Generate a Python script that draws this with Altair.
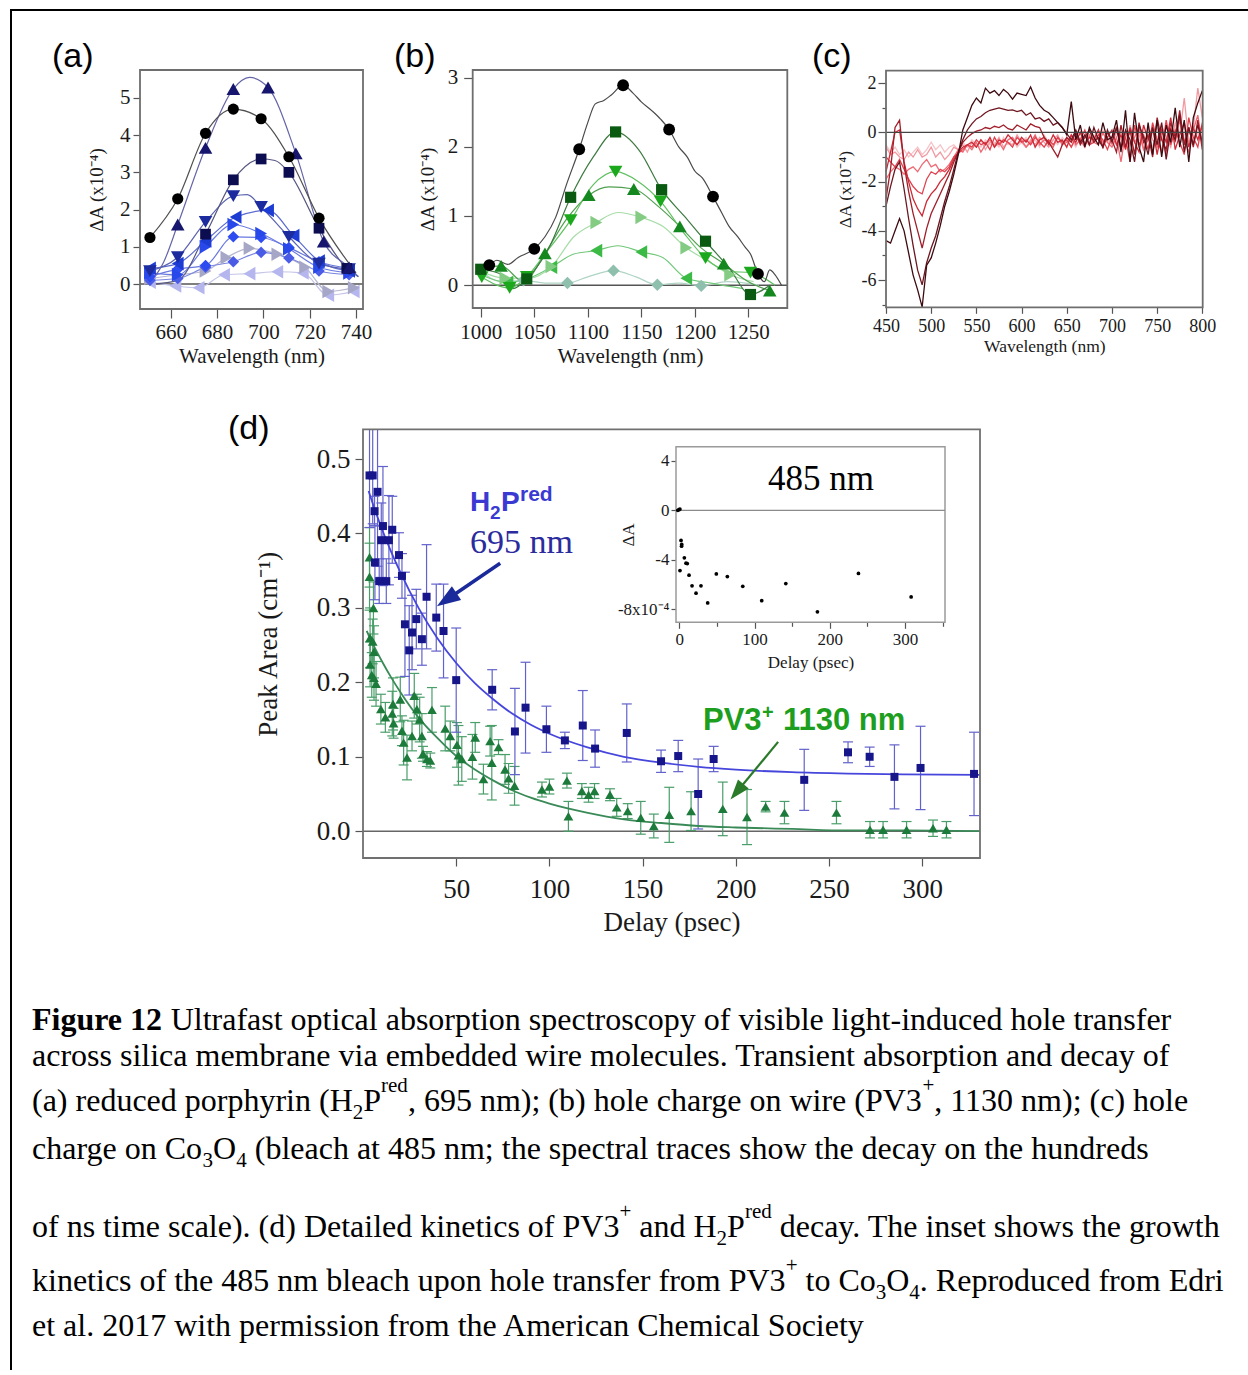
import altair as alt
import pandas as pd

W, H = 1248, 1370
SERIF = "Liberation Serif"
SANS = "Liberation Sans"
ONE = pd.DataFrame({"k": [0]})

# ---------------- panel (a): H2P(red) spectra ----------------
a_shapes = ["triangle-left", "triangle-right", "diamond", "diamond", "triangle-right",
            "triangle-left", "triangle-down", "square", "triangle-up", "circle"]
a_colors = ["#b6b6ee", "#a6a6c6", "#4a5ce6", "#2f4cf0", "#2848ea",
            "#1d3cd4", "#1c2c9e", "#0c0c50", "#16166e", "#000000"]
a_line_colors = ["#c4c4ea", "#b8b8d0", "#7a86e0", "#6a78e0", "#6a7ae0",
                 "#5a6ad0", "#5a62b0", "#555580", "#6464a8", "#505050"]
a_mk_wl = [
    [651, 662, 672, 683, 694, 706, 717, 728, 739],
    [651, 663, 675, 684, 694, 706, 718, 728, 739],
    [651, 663, 675, 687, 699, 711, 724, 737],
    [651, 663, 675, 687, 699, 711, 724, 737],
    [651, 663, 675, 687, 699, 711, 724, 737],
    [651, 663, 675, 688, 702, 713, 724, 737],
    [651, 663, 675, 687, 699, 711, 724, 737],
    [675, 687, 699, 711, 724, 736],
    [663, 675, 687, 702, 714, 726, 737],
    [651, 663, 675, 687, 699, 711, 724],
]
a_mk_val = [
    [0.05, -0.05, -0.10, 0.25, 0.28, 0.33, 0.30, -0.30, -0.20],
    [0.15, 0.25, 0.35, 0.71, 0.96, 0.80, 0.45, -0.20, -0.10],
    [0.10, 0.15, 0.45, 0.60, 0.85, 0.70, 0.35, 0.25],
    [0.20, 0.40, 0.50, 1.27, 1.25, 0.98, 0.60, 0.42],
    [0.30, 0.25, 1.00, 1.60, 1.36, 0.95, 0.45, 0.30],
    [0.42, 0.55, 1.16, 1.80, 1.98, 1.30, 0.62, 0.35],
    [0.35, 0.72, 1.67, 2.36, 2.07, 1.27, 0.55, 0.40],
    [1.34, 2.80, 3.36, 3.00, 1.50, 0.42],
    [1.60, 3.66, 5.24, 5.28, 3.51, 1.14, 0.45],
    [1.25, 2.29, 4.05, 4.70, 4.44, 3.42, 1.77],
]
a_ln_wl = [[], [], [], [], [], [], [693], [652, 663, 705, 741], [652, 657, 694, 741], [740]]
a_ln_val = [[], [], [], [], [], [], [2.40], [0.0, 0.10, 3.32, 0.20], [0.10, 0.60, 5.55, 0.20], [0.30]]

# ---------------- panel (b): PV3+ spectra ----------------
b_shapes = ["diamond", "triangle-left", "triangle-right", "triangle-up", "triangle-down", "square", "circle"]
b_colors = ["#8fc0ae", "#3cba46", "#84cc84", "#14881e", "#1ca81c", "#0b5a12", "#000000"]
b_line_colors = ["#b0d4c4", "#70c878", "#a8dca8", "#50a050", "#60c060", "#3c7a40", "#4a4a4a"]
b_mk_wl = [
    [1040, 1081, 1124, 1165, 1206],
    [1025, 1066, 1108, 1150, 1192],
    [1023, 1066, 1108, 1150, 1192, 1233],
    [1019, 1060, 1101, 1143, 1186, 1227, 1270],
    [1001, 1027, 1043, 1084, 1126, 1168, 1210, 1252],
    [1000, 1043, 1084, 1126, 1169, 1210, 1252],
    [1008, 1050, 1092, 1133, 1176, 1217, 1259],
]
b_mk_val = [
    [0.07, 0.03, 0.21, 0.005, -0.01],
    [0.04, 0.26, 0.50, 0.48, 0.10],
    [0.10, 0.27, 0.905, 0.98, 0.54, 0.15],
    [0.28, 0.46, 1.30, 1.39, 0.85, 0.31, -0.08],
    [0.115, -0.04, 0.12, 0.94, 1.64, 1.21, 0.39, 0.18],
    [0.23, 0.09, 1.27, 2.215, 1.38, 0.635, -0.135],
    [0.29, 0.525, 1.965, 2.89, 2.25, 1.28, 0.163],
]
b_ln_wl = [
    [1000, 1020, 1060, 1100, 1145, 1185, 1230, 1260],
    [1000, 1045, 1087, 1128, 1170, 1215, 1245],
    [1000, 1045, 1087, 1128, 1170, 1212, 1255],
    [1000, 1040, 1080, 1120, 1165, 1205, 1250],
    [1060, 1105, 1147, 1190, 1232, 1275],
    [1020, 1030, 1064, 1105, 1148, 1190, 1232, 1270],
    [1000, 1015, 1025, 1035, 1060, 1070, 1080, 1100, 1107, 1115, 1122, 1142, 1150, 1160, 1168,
     1185, 1193, 1200, 1207, 1225, 1232, 1240, 1247, 1252, 1265, 1270, 1275, 1281],
]
b_ln_val = [
    [0.20, 0.05, 0.03, 0.12, 0.12, 0.03, 0.05, 0.0],
    [0.15, 0.10, 0.45, 0.57, 0.40, 0.03, -0.05],
    [0.20, 0.10, 0.70, 1.05, 0.85, 0.35, 0.05],
    [0.25, 0.05, 0.95, 1.42, 1.15, 0.55, 0.05],
    [0.45, 1.45, 1.50, 0.75, 0.20, 0.0],
    [0.15, -0.05, 0.55, 1.85, 1.95, 1.00, 0.25, 0.0],
    [0.25, 0.36, 0.30, 0.40, 0.70, 0.98, 1.45, 2.35, 2.62, 2.67, 2.75, 2.78, 2.65, 2.52, 2.40,
     2.00, 1.85, 1.65, 1.55, 1.05, 0.85, 0.70, 0.55, 0.45, 0.05, 0.22, 0.15, 0.0],
]

# ---------------- panel (c): Co3O4 spectral traces ----------------
c_wl = list(range(450, 801, 5))
c_colors = ["#f6c4c8", "#f29aa2", "#ee6a74", "#e0424e", "#cc2a36", "#a01e2a", "#6e1620", "#3d0a10"]
c_vals = [
    [-0.5, -0.8, -0.6, -0.9, -0.7, -1.0, -0.8, -0.6, -0.9, -0.7, -0.4, -0.7, -0.5, -0.8, -0.6, -0.5, -0.7, -0.4,
     -0.6, -0.3, -0.5, -0.6, -0.3, -0.5, -0.4, -0.6, -0.2, -0.5, -0.3, -0.6, -0.4, -0.2, -0.5, -0.3, -0.6, -0.1,
     -0.4, -0.3, -0.5, -0.2, -0.4, -0.3, -0.6, -0.2, -0.4, -0.5, -0.1, -0.3, 0.1, -0.4, -0.2, -0.5, 0.0, -0.3,
     -0.6, 0.1, -0.3, -0.5, 0.0, -0.6, -0.2, 0.1, -0.4, -0.2, 0.3, -0.5, -0.1, 0.2, -0.4, 0.0, -0.3],
    [-0.6, -0.9, -0.8, -1.0, -1.1, -0.8, -1.0, -0.7, -1.0, -0.9, -0.6, -1.0, -0.8, -1.1, -0.9, -0.6, -0.7, -0.5,
     -0.8, -0.4, -0.6, -0.3, -0.7, -0.4, -0.5, -0.2, -0.6, -0.4, -0.5, -0.1, -0.4, -0.6, -0.3, -0.5, -0.2, -0.4,
     -0.6, -0.3, -0.1, -0.5, -0.3, -0.6, -0.2, -0.4, -0.1, -0.5, -0.3, 0.1, -0.4, -0.2, -0.5, 0.0, -0.3, -0.6,
     0.3, -0.4, -0.1, -0.7, 0.2, -0.3, -0.5, 0.3, -0.2, -0.6, 0.4, -0.1, 1.4, -0.4, 0.2, 1.8, 0.6],
    [-1.9, -1.6, -1.4, -1.5, -1.7, -1.5, -1.4, -1.6, -1.3, -1.1, -1.4, -1.3, -1.6, -1.5, -1.3, -1.0, -0.7, -0.8,
     -0.5, -0.7, -0.4, -0.8, -0.5, -0.3, -0.6, -0.4, -0.7, -0.3, -0.2, -0.5, -0.3, -0.6, -0.4, -0.1, -0.5, -0.3,
     -0.4, -0.6, -0.2, -0.5, -0.4, -0.1, -0.5, -0.3, -0.6, -0.1, -0.4, -0.5, 0.0, -0.4, -0.6, -0.2, -1.2, 0.0,
     -0.5, -0.2, 0.2, -0.7, -0.3, 0.1, -0.6, -0.2, -0.9, 0.2, -0.4, 0.5, -0.3, -0.8, 0.1, 0.7, -0.5],
    [-1.0, -1.2, -1.4, -1.1, -1.5, -1.9, -2.2, -2.4, -2.5, -1.9, -1.6, -1.7, -1.5, -1.6, -1.4, -1.0, -0.85, -0.7,
     -0.5, -0.6, -0.3, -0.5, -0.4, -0.7, -0.2, -0.5, -0.3, -0.4, -0.6, -0.2, -0.4, -0.3, -0.5, -0.2, -0.4, -0.6,
     -0.3, -0.5, -0.2, -0.4, -0.3, -0.6, -0.2, -0.3, 0.1, -0.5, -0.4, -0.1, -0.3, -0.7, -0.2, 0.2, -0.6, -0.2,
     -1.2, 0.3, -0.5, -0.1, -0.7, 0.4, -0.3, -0.8, 0.5, -0.5, 0.1, -0.4, -0.9, 0.6, -0.2, -0.6, 0.4],
    [-1.6, -0.8, 0.0, 0.1, -1.2, -2.0, -2.7, -3.1, -3.4, -2.8, -2.5, -2.3, -2.0, -1.8, -1.5, -1.1, -0.8, -0.6,
     -0.5, -0.4, -0.6, -0.3, -0.5, -0.2, -0.6, -0.3, -0.4, -0.1, -0.3, -0.5, -0.2, -0.4, -0.1, -0.6, -0.3, -0.2,
     -0.5, -0.1, -0.4, -0.3, -0.6, -0.1, -0.4, 0.0, -0.5, -0.2, -0.3, 0.1, -0.6, -0.2, 0.1, -0.5, -0.1, -0.7,
     0.2, -0.4, -0.8, 0.3, -0.3, 0.2, -0.9, 0.1, -0.4, 0.6, -0.7, -0.1, 0.4, -0.6, 0.2, -0.3, 0.3],
    [-2.7, -1.5, 0.2, 0.5, -1.3, -2.4, -3.3, -4.0, -4.7, -3.9, -3.3, -2.9, -2.5, -2.1, -1.7, -1.2, -0.8, -0.4,
     -0.2, -0.05, 0.05, 0.1, 0.2, 0.15, 0.25, 0.2, 0.3, 0.15, 0.1, 0.3, 0.2, 0.1, 0.35, 0.25, 0.2, -0.2,
     -0.4, -0.7, -1.0, -0.5, -0.2, -0.4, 0.0, -0.5, -0.2, 0.1, -0.4, -0.2, -0.6, 0.0, -0.3, -0.8, 0.3, -0.6,
     0.1, -0.9, 0.4, -0.4, -0.1, -1.0, 0.6, -0.3, -0.7, 0.4, -0.2, 0.9, -0.5, 0.2, -0.6, 0.5, -0.7],
    [-3.0, -2.2, -1.5, -1.2, -2.3, -3.5, -4.6, -5.6, -6.2, -5.3, -4.7, -4.2, -3.5, -2.8, -2.2, -1.5, -0.8, -0.3,
     0.1, 0.35, 0.55, 0.65, 0.8, 0.9, 0.95, 1.0, 0.95, 0.9, 0.92, 0.85, 0.9, 0.7, 0.8, 0.55, 0.6, 0.45,
     0.55, 0.3, 0.4, 0.2, -0.05, -0.3, 0.1, -0.4, -0.1, -0.5, 0.2, -0.3, -0.6, 0.1, -0.4, 0.2, -0.7, 0.1,
     -0.3, -1.2, 0.3, -0.2, -0.9, 0.2, -0.5, 0.4, -1.1, 0.1, -0.3, 0.7, -0.8, 0.2, -0.5, 0.3, -0.4],
    [-4.4, -4.5, -4.0, -3.5, -4.0, -4.9, -5.8, -6.4, -7.1, -5.4, -5.1, -4.5, -3.8, -3.0, -2.4, -1.7, -0.9, 0.1,
     0.6, 1.1, 1.4, 1.2, 1.8, 1.6, 1.7, 1.5, 1.75, 1.6, 1.35, 1.6, 1.55, 1.5, 1.85, 1.4, 1.1, 0.9,
     0.8, 0.6, 0.4, 0.2, -0.1, 1.25, -0.3, 0.3, -0.6, 0.2, -0.2, -0.5, 0.4, -0.3, -0.2, 0.5, -0.8, 0.9,
     -1.2, 0.8, -0.6, -1.2, 0.4, -0.9, 0.5, -1.0, 0.3, -0.4, 1.0, -0.6, 0.5, -1.2, 0.6, 1.2, 1.7],
]

# ---------------- panel (d): kinetics ----------------
d_b_t = [3.5, 5.2, 7.8, 6.2, 10.7, 6.4, 9.8, 8.7, 12.5, 13.9, 15.7, 19.3, 20.9, 22.5, 24.8, 26.3, 28.6, 31.6,
         34.1, 39.3, 43.2, 50.0, 69.3, 81.5, 87.2, 98.4, 108.3, 117.9, 124.5, 141.5, 159.9, 169.1, 179.8,
         188.1, 236.7, 260.2, 271.8, 285.1, 299.1, 327.8]
d_b_v = [0.478, 0.478, 0.456, 0.430, 0.410, 0.361, 0.391, 0.336, 0.336, 0.391, 0.405, 0.371, 0.343, 0.278,
         0.243, 0.267, 0.285, 0.258, 0.315, 0.287, 0.269, 0.203, 0.190, 0.134, 0.166, 0.137, 0.122, 0.142,
         0.111, 0.132, 0.094, 0.101, 0.050, 0.097, 0.069, 0.106, 0.100, 0.073, 0.085, 0.077]
d_b_e = [0.070, 0.065, 0.100, 0.020, 0.080, 0.050, 0.050, 0.030, 0.030, 0.060, 0.045, 0.030, 0.030, 0.070,
         0.060, 0.050, 0.040, 0.035, 0.070, 0.045, 0.063, 0.070, 0.027, 0.058, 0.061, 0.031, 0.011, 0.047,
         0.025, 0.039, 0.015, 0.021, 0.047, 0.017, 0.041, 0.014, 0.013, 0.043, 0.056, 0.056]
d_g_t = [3.5, 3.5, 5.6, 3.8, 5.2, 5.9, 3.8, 4.7, 5.9, 7.0, 9.6, 12.0, 15.7, 16.1, 20.0, 16.4, 20.9, 21.8,
         23.6, 26.3, 27.5, 28.9, 30.4, 31.6, 32.2, 34.3, 36.1, 37.0, 44.1, 46.8, 50.4, 51.2, 53.0, 58.7,
         60.2, 64.6, 68.2, 69.1, 72.7, 76.2, 78.1, 81.3, 96.0, 100.0, 109.4, 110.2, 117.4, 121.0, 124.2,
         132.5, 136.1, 142.0, 149.0, 156.0, 164.3, 176.0, 193.0, 206.0, 216.0, 226.1, 254.0, 272.0, 279.0,
         291.6, 305.8, 313.0]
d_g_v = [0.368, 0.342, 0.300, 0.260, 0.255, 0.241, 0.224, 0.210, 0.206, 0.198, 0.164, 0.153, 0.158, 0.171,
         0.177, 0.145, 0.135, 0.119, 0.099, 0.128, 0.182, 0.164, 0.150, 0.128, 0.104, 0.097, 0.095, 0.163,
         0.138, 0.128, 0.116, 0.102, 0.097, 0.100, 0.126, 0.070, 0.121, 0.092, 0.113, 0.083, 0.071, 0.061,
         0.056, 0.060, 0.068, 0.020, 0.054, 0.049, 0.054, 0.049, 0.032, 0.027, 0.018, 0.007, 0.022, 0.027,
         0.030, 0.019, 0.033, 0.025, 0.025, 0.002, 0.002, 0.002, 0.004, 0.002]
d_g_e = [0.040, 0.045, 0.035, 0.040, 0.030, 0.035, 0.030, 0.030, 0.030, 0.030, 0.020, 0.020, 0.030, 0.035,
         0.030, 0.020, 0.020, 0.030, 0.030, 0.020, 0.030, 0.020, 0.030, 0.030, 0.010, 0.010, 0.010, 0.030,
         0.030, 0.020, 0.030, 0.040, 0.030, 0.030, 0.020, 0.020, 0.020, 0.050, 0.010, 0.020, 0.020, 0.026,
         0.010, 0.010, 0.010, 0.020, 0.010, 0.010, 0.010, 0.008, 0.012, 0.010, 0.022, 0.016, 0.037, 0.026,
         0.036, 0.037, 0.007, 0.015, 0.015, 0.011, 0.011, 0.011, 0.011, 0.011]
d_bfit_t = [3, 5, 10, 15, 20, 30, 40, 50, 60, 70, 80, 90, 100, 120, 140, 160, 180, 200, 230, 260, 290, 331]
d_bfit_v = [0.457, 0.442, 0.407, 0.376, 0.348, 0.299, 0.259, 0.226, 0.199, 0.177, 0.158, 0.143, 0.131,
            0.113, 0.100, 0.092, 0.0865, 0.0828, 0.0793, 0.0774, 0.0763, 0.0756]
d_gfit_t = [2, 5, 10, 15, 20, 30, 40, 50, 60, 70, 80, 90, 100, 120, 140, 160, 180, 200, 230, 260, 290, 331]
d_gfit_v = [0.269, 0.253, 0.229, 0.207, 0.187, 0.152, 0.125, 0.101, 0.083, 0.068, 0.055, 0.045, 0.037,
            0.025, 0.016, 0.011, 0.007, 0.005, 0.003, 0.001, 0.001, 0.000]
# arrows (tail t, tail v, head-centre t, head-centre v) in panel (d) data units
arrow_blue = [73.6, 0.360, 44.9, 0.311]
arrow_green = [222.7, 0.120, 200.6, 0.053]

# inset: 485 nm bleach
ins_t = [-2, -0.5, 0.8, 2.3, 3.2, 3.0, 0.9, 6.7, 8.9, 10.6, 12.9, 16.9, 22.2, 28.8, 37.7, 49.2, 63.8,
         84.3, 109.5, 141.5, 183.5, 238, 308]
ins_v = [0, 0.05, 0.1, -2.43, -2.76, -2.9, -4.87, -3.84, -4.27, -4.3, -5.24, -6.1, -6.7, -6.1, -7.49,
         -5.14, -5.35, -6.14, -7.3, -5.92, -8.2, -5.1, -7.0]

# ---------------- caption ----------------
cap_lines = [
    [("Figure 12", "b"), (" Ultrafast optical absorption spectroscopy of visible light-induced hole transfer", "n")],
    [("across silica membrane via embedded wire molecules. Transient absorption and decay of", "n")],
    [("(a) reduced porphyrin (H", "n"), ("2", "sub"), ("P", "n"), ("red", "sup"),
     (", 695 nm); (b) hole charge on wire (PV3", "n"), ("+", "sup"), (", 1130 nm); (c) hole", "n")],
    [("charge on Co", "n"), ("3", "sub"), ("O", "n"), ("4", "sub"),
     (" (bleach at 485 nm; the spectral traces show the decay on the hundreds", "n")],
    [("of ns time scale). (d) Detailed kinetics of PV3", "n"), ("+", "sup"), (" and H", "n"), ("2", "sub"),
     ("P", "n"), ("red", "sup"), (" decay. The inset shows the growth", "n")],
    [("kinetics of the 485 nm bleach upon hole transfer from PV3", "n"), ("+", "sup"), (" to Co", "n"),
     ("3", "sub"), ("O", "n"), ("4", "sub"), (". Reproduced from Edri", "n")],
    [("et al. 2017 with permission from the American Chemical Society", "n")],
]
cap_baselines = [1030, 1066, 1111, 1159, 1237, 1291, 1336]

# =====================================================================
TNR = {" ": .25, "(": .333, ")": .333, ",": .25, ".": .25, ";": .278, "-": .333, "+": .564}
for _d in "0123456789":
    TNR[_d] = .5
TNR.update(dict(a=.444, b=.5, c=.444, d=.5, e=.444, f=.333, g=.5, h=.5, i=.278, j=.278, k=.5, l=.278,
                m=.778, n=.5, o=.5, p=.5, q=.5, r=.333, s=.389, t=.278, u=.5, v=.5, w=.722, x=.5, y=.5, z=.444))
TNR.update(dict(A=.722, B=.667, C=.667, D=.722, E=.611, F=.556, G=.722, H=.722, I=.333, J=.389, K=.722,
                L=.611, M=.889, N=.722, O=.722, P=.556, Q=.722, R=.667, S=.556, T=.611, U=.722, V=.722,
                W=.944, X=.722, Y=.722, Z=.611))
TNR_B = {"F": .611, "i": .278, "g": .5, "u": .556, "r": .444, "e": .444, " ": .25, "1": .5, "2": .5}


def twidth(s, size, bold=False):
    tab = TNR_B if bold else TNR
    return sum(tab.get(ch, .5) for ch in s) * size


def txt(s, x, y, size, font=SERIF, weight="normal", color="#000000", align="left",
        baseline="alphabetic", angle=0):
    return alt.Chart(ONE).mark_text(text=s, fontSize=size, font=font, fontWeight=weight, color=color,
                                    align=align, baseline=baseline, angle=angle).encode(
        x=alt.value(x), y=alt.value(y))


def sc(dom, rng, clamp=False):
    return alt.Scale(domain=dom, range=rng, nice=False, zero=False, clamp=clamp)


def xaxis(axis_y, values, fs, title, title_y, tick, pad, title_fs=None, label_expr=None, fmt=None):
    kw = dict(orient="bottom", offset=axis_y - H, values=values, title=title, titleY=title_y,
              titleBaseline="middle", titleFont=SERIF, titleFontSize=title_fs or fs,
              titleFontWeight="normal", titleColor="#1a1a1a", labelFont=SERIF, labelFontSize=fs,
              labelColor="#1a1a1a", labelPadding=pad, labelFlush=False, labelOverlap=False,
              tickSize=tick, tickColor="#555555", tickWidth=1.2, domain=False, grid=False)
    if label_expr:
        kw["labelExpr"] = label_expr
    kw["format"] = fmt if fmt else "d"
    return alt.Axis(**kw)


def yaxis(axis_x, values, fs, title, title_x, tick, pad, title_fs=None, label_expr=None, fmt=None):
    kw = dict(orient="left", offset=-axis_x, values=values, title=title, titleX=title_x,
              titleBaseline="middle", titleFont=SERIF, titleFontSize=title_fs or fs,
              titleFontWeight="normal", titleColor="#1a1a1a", labelFont=SERIF, labelFontSize=fs,
              labelColor="#1a1a1a", labelPadding=pad, labelFlush=False, labelOverlap=False,
              tickSize=tick, tickColor="#555555", tickWidth=1.2, domain=False, grid=False)
    if label_expr:
        kw["labelExpr"] = label_expr
    if fmt:
        kw["format"] = fmt
    return alt.Axis(**kw)


def frame_df(dx, dy):
    return pd.DataFrame({"x0": [dx[0]], "x1": [dx[1]], "y0": [dy[0]], "y1": [dy[1]], "z": [0.0]})


def spectra_panel(dx, rx, dy, ry, axx, axy, mk_wl, mk_val, ln_wl, ln_val, shapes, colors, lcolors,
                  msize, frame_color="#6e6e6e"):
    XS, YS = sc(dx, rx), sc(dy, ry)

    def X(f):
        return alt.X(f + ":Q", scale=XS, axis=axx)

    def Y(f):
        return alt.Y(f + ":Q", scale=YS, axis=axy)

    fr = frame_df(dx, dy)
    prow, lrow = [], []
    for i in range(len(mk_wl)):
        for x, y in zip(mk_wl[i], mk_val[i]):
            prow.append(dict(x=x, y=y, shape=shapes[i], color=colors[i], size=msize.get(shapes[i], msize["tri"])))
            lrow.append(dict(x=x, y=y, sid="s%02d" % i, lc=lcolors[i]))
        for x, y in zip(ln_wl[i], ln_val[i]):
            lrow.append(dict(x=x, y=y, sid="s%02d" % i, lc=lcolors[i]))
    pdf, ldf = pd.DataFrame(prow), pd.DataFrame(lrow)
    frame = alt.Chart(fr).mark_rect(fillOpacity=0, stroke=frame_color, strokeWidth=1.8).encode(
        x=X("x0"), x2="x1", y=Y("y0"), y2="y1")
    zero = alt.Chart(fr).mark_rule(color="#555555", strokeWidth=1.5).encode(x=X("x0"), x2="x1", y=Y("z"))
    lines = alt.Chart(ldf).mark_line(interpolate="monotone", strokeWidth=1.2).encode(
        x=X("x"), y=Y("y"), color=alt.Color("lc:N", scale=None), detail="sid:N")
    pts = alt.Chart(pdf).mark_point(filled=True, opacity=1, strokeWidth=0).encode(
        x=X("x"), y=Y("y"), shape=alt.Shape("shape:N", scale=None), color=alt.Color("color:N", scale=None),
        size=alt.Size("size:Q", scale=None))
    return alt.layer(zero, lines, pts, frame)


layers = []
# outer border of the figure
layers.append(alt.Chart(ONE).mark_rect(fillOpacity=0, stroke="#000000", strokeWidth=2).encode(
    x=alt.value(11), x2=alt.value(1300), y=alt.value(10), y2=alt.value(1450)))

# ---- (a)
ax_a_x = xaxis(309, [660, 680, 700, 720, 740], 21, "Wavelength (nm)", 47, 9, 3)
ax_a_y = yaxis(140, [0, 1, 2, 3, 4, 5], 21, "ΔA (x10⁻⁴)", -44, 7, 3, title_fs=19)
layers.append(spectra_panel([646.7, 743.0], [140, 363], [-0.67, 5.75], [309, 70], ax_a_x, ax_a_y,
                            a_mk_wl, a_mk_val, a_ln_wl, a_ln_val, a_shapes, a_colors, a_line_colors,
                            {"circle": 125, "square": 115, "diamond": 135, "tri": 185}))

# ---- (b)
ax_b_x = xaxis(308, [1000, 1050, 1100, 1150, 1200, 1250], 21, "Wavelength (nm)", 48, 9, 4)
ax_b_y = yaxis(472.7, [0, 1, 2, 3], 21, "ΔA (x10⁻⁴)", -45, 9, 6, title_fs=19)
layers.append(spectra_panel([992.5, 1286.4], [472.7, 787.3], [-0.33, 3.11], [308, 70], ax_b_x, ax_b_y,
                            b_mk_wl, b_mk_val, b_ln_wl, b_ln_val, b_shapes, b_colors, b_line_colors,
                            {"circle": 140, "square": 125, "diamond": 155, "tri": 185}))

# ---- (c)
XC, YC = sc([450, 800.4], [886, 1202.7]), sc([-7.11, 2.51], [307.3, 70.7])
ax_c_x = xaxis(307.3, [450, 500, 550, 600, 650, 700, 750, 800], 18, "Wavelength (nm)", 39, 6, 4,
               title_fs=17.5)
ax_c_y = yaxis(886, [-7, -6, -5, -4, -3, -2, -1, 0, 1, 2], 18, "ΔA (x10⁻⁴)", -41,
               {"condition": {"test": "datum.value % 2 === 0", "value": 8}, "value": 4}, 2, title_fs=17.5,
               label_expr="datum.value % 2 === 0 ? ('' + datum.value) : ''")
crow = []
for i, vals in enumerate(c_vals):
    for x, y in zip(c_wl, vals):
        crow.append(dict(x=x, y=y, sid="c%d" % i, lc=c_colors[i]))
cdf = pd.DataFrame(crow)
frc = frame_df([450, 800.4], [-7.11, 2.51])
layers.append(alt.layer(
    alt.Chart(cdf).mark_line(strokeWidth=1.3).encode(
        x=alt.X("x:Q", scale=XC, axis=ax_c_x), y=alt.Y("y:Q", scale=YC, axis=ax_c_y),
        color=alt.Color("lc:N", scale=None), detail="sid:N"),
    alt.Chart(frc).mark_rule(color="#444444", strokeWidth=1.3).encode(
        x=alt.X("x0:Q", scale=XC, axis=ax_c_x), x2="x1", y=alt.Y("z:Q", scale=YC, axis=ax_c_y)),
    alt.Chart(frc).mark_rect(fillOpacity=0, stroke="#6e6e6e", strokeWidth=1.8).encode(
        x=alt.X("x0:Q", scale=XC, axis=ax_c_x), x2="x1", y=alt.Y("y0:Q", scale=YC, axis=ax_c_y), y2="y1"),
))

# ---- (d)
XD, YD = sc([0, 331], [363, 980]), sc([-0.036, 0.54], [858, 429.3], clamp=True)
ax_d_x = xaxis(858, [50, 100, 150, 200, 250, 300], 27, "Delay (psec)", 64, 8, 10)
ax_d_y = yaxis(363, [0, 0.1, 0.2, 0.3, 0.4, 0.5], 27, "Peak Area (cm⁻¹)", -95, 8, 5, fmt=".1f")


def DX(f):
    return alt.X(f + ":Q", scale=XD, axis=ax_d_x)


def DY(f):
    return alt.Y(f + ":Q", scale=YD, axis=ax_d_y)


bdf = pd.DataFrame({"t": d_b_t, "v": d_b_v, "e": d_b_e})
bdf["lo"], bdf["hi"] = bdf.v - bdf.e, bdf.v + bdf.e
gdf = pd.DataFrame({"t": d_g_t, "v": d_g_v, "e": d_g_e})
gdf["lo"], gdf["hi"] = gdf.v - gdf.e, gdf.v + gdf.e
bfit = pd.DataFrame({"t": d_bfit_t, "v": d_bfit_v})
gfit = pd.DataFrame({"t": d_gfit_t, "v": d_gfit_v})
frd = frame_df([0, 331], [-0.036, 0.54])
arr = pd.DataFrame({"t0": [arrow_blue[0], arrow_green[0]], "v0": [arrow_blue[1], arrow_green[1]],
                    "t1": [arrow_blue[2], arrow_green[2]], "v1": [arrow_blue[3], arrow_green[3]]})
B_ERR, B_MK, B_FIT = "#6262cc", "#16168a", "#4646dc"
G_ERR, G_MK, G_FIT = "#4a9e6a", "#1c7a3a", "#3a8a58"
HEAD = "M0,-1L0.7,1L-0.7,1Z"


def errbars(df, col):
    caps_hi = df[df.hi < 0.54]
    return [
        alt.Chart(df).mark_rule(color=col, strokeWidth=1.2).encode(x=DX("t"), y=DY("lo"), y2="hi"),
        alt.Chart(df).mark_tick(orient="horizontal", size=10, thickness=1.2, color=col, opacity=1).encode(
            x=DX("t"), y=DY("lo")),
        alt.Chart(caps_hi).mark_tick(orient="horizontal", size=10, thickness=1.2, color=col, opacity=1).encode(
            x=DX("t"), y=DY("hi")),
    ]


layers.append(alt.layer(
    alt.Chart(frd).mark_rule(color="#666666", strokeWidth=1.5).encode(x=DX("x0"), x2="x1", y=DY("z")),
    *errbars(gdf, G_ERR),
    *errbars(bdf, B_ERR),
    alt.Chart(gfit).mark_line(color=G_FIT, strokeWidth=1.8, interpolate="monotone").encode(x=DX("t"), y=DY("v")),
    alt.Chart(bfit).mark_line(color=B_FIT, strokeWidth=1.8, interpolate="monotone").encode(x=DX("t"), y=DY("v")),
    alt.Chart(gdf).mark_point(shape="triangle-up", filled=True, size=95, color=G_MK, opacity=1).encode(
        x=DX("t"), y=DY("v")),
    alt.Chart(bdf).mark_point(shape="square", filled=True, size=64, color=B_MK, opacity=1).encode(
        x=DX("t"), y=DY("v")),
    alt.Chart(arr.iloc[[0]]).mark_rule(color="#1a2a9a", strokeWidth=3.5).encode(
        x=DX("t0"), y=DY("v0"), x2="t1", y2="v1"),
    alt.Chart(arr.iloc[[0]]).mark_point(shape=HEAD, filled=True, size=560, angle=236, color="#1a2a9a",
                                        opacity=1).encode(x=DX("t1"), y=DY("v1")),
    alt.Chart(arr.iloc[[1]]).mark_rule(color="#2a7a2a", strokeWidth=2.2).encode(
        x=DX("t0"), y=DY("v0"), x2="t1", y2="v1"),
    alt.Chart(arr.iloc[[1]]).mark_point(shape=HEAD, filled=True, size=400, angle=220, color="#2a7a2a",
                                        opacity=1).encode(x=DX("t1"), y=DY("v1")),
    alt.Chart(frd).mark_rect(fillOpacity=0, stroke="#707070", strokeWidth=1.8).encode(
        x=DX("x0"), x2="x1", y=DY("y0"), y2="y1"),
))

# ---- inset
XI, YI = sc([-4.4, 353], [676, 945]), sc([-9.05, 5.14], [622.3, 446.7])
ax_i_x = xaxis(622.3, [0, 50, 100, 150, 200, 250, 300, 350], 17, "Delay (psec)", 40,
               {"condition": {"test": "datum.value % 100 === 0", "value": 6}, "value": 4}, 3,
               label_expr="datum.value % 100 === 0 ? datum.label : ''")
ax_i_y = yaxis(676, [-8, -4, 0, 4], 17, "ΔA", -48, 5, 2,
               label_expr="datum.value === -8 ? '-8x10⁻⁴' : ('' + datum.value)")
idf = pd.DataFrame({"t": ins_t, "v": ins_v})
fri = frame_df([-4.4, 353], [-9.05, 5.14])
layers.append(alt.layer(
    alt.Chart(fri).mark_rect(fill="#ffffff", stroke="#9a9a9a", strokeWidth=1.5).encode(
        x=alt.X("x0:Q", scale=XI, axis=ax_i_x), x2="x1", y=alt.Y("y0:Q", scale=YI, axis=ax_i_y), y2="y1"),
    alt.Chart(fri).mark_rule(color="#8a8a8a", strokeWidth=1.2).encode(
        x=alt.X("x0:Q", scale=XI, axis=ax_i_x), x2="x1", y=alt.Y("z:Q", scale=YI, axis=ax_i_y)),
    alt.Chart(idf).mark_point(shape="circle", filled=True, size=14, color="#000000", opacity=1).encode(
        x=alt.X("t:Q", scale=XI, axis=ax_i_x), y=alt.Y("v:Q", scale=YI, axis=ax_i_y)),
))

# ---- annotations
for lab, x in [("(a)", 52), ("(b)", 394), ("(c)", 812)]:
    layers.append(txt(lab, x, 67, 34, font=SANS))
layers.append(txt("(d)", 228, 439, 34, font=SANS))
layers.append(txt("485 nm", 768, 490, 35))
BLUE_T = "#3a3ad2"
layers.append(txt("H", 470, 511, 28, font=SANS, weight="bold", color=BLUE_T))
layers.append(txt("2", 490, 519, 19, font=SANS, weight="bold", color=BLUE_T))
layers.append(txt("P", 501, 511, 28, font=SANS, weight="bold", color=BLUE_T))
layers.append(txt("red", 520, 501, 21, font=SANS, weight="bold", color=BLUE_T))
layers.append(txt("695 nm", 470, 553, 34, color="#2b2b9e"))
GREEN_T = "#1e9e1e"
layers.append(txt("PV3", 703, 730, 31, font=SANS, weight="bold", color=GREEN_T))
layers.append(txt("+", 762, 719, 20, font=SANS, weight="bold", color=GREEN_T))
layers.append(txt("1130 nm", 783, 730, 31, font=SANS, weight="bold", color=GREEN_T))

# ---- caption
CAP, SUBF = 32, 21
for segs, base in zip(cap_lines, cap_baselines):
    x = 32.0
    for s, kind in segs:
        bold = kind == "b"
        size = SUBF if kind in ("sub", "sup") else CAP
        dy = -19 if kind == "sup" else (8 if kind == "sub" else 0)
        lead = len(s) - len(s.lstrip(" "))
        layers.append(txt(s.strip(" "), x + lead * 0.25 * size, base + dy, size,
                          weight="bold" if bold else "normal"))
        x += twidth(s, size, bold)

chart = alt.layer(*layers).resolve_scale(x="independent", y="independent").properties(
    width=W, height=H, padding=0, autosize=alt.AutoSizeParams(type="none"),
    background="#ffffff").configure_view(strokeWidth=0)

chart.save("out.html", embed_options={"renderer": "svg", "actions": False})
